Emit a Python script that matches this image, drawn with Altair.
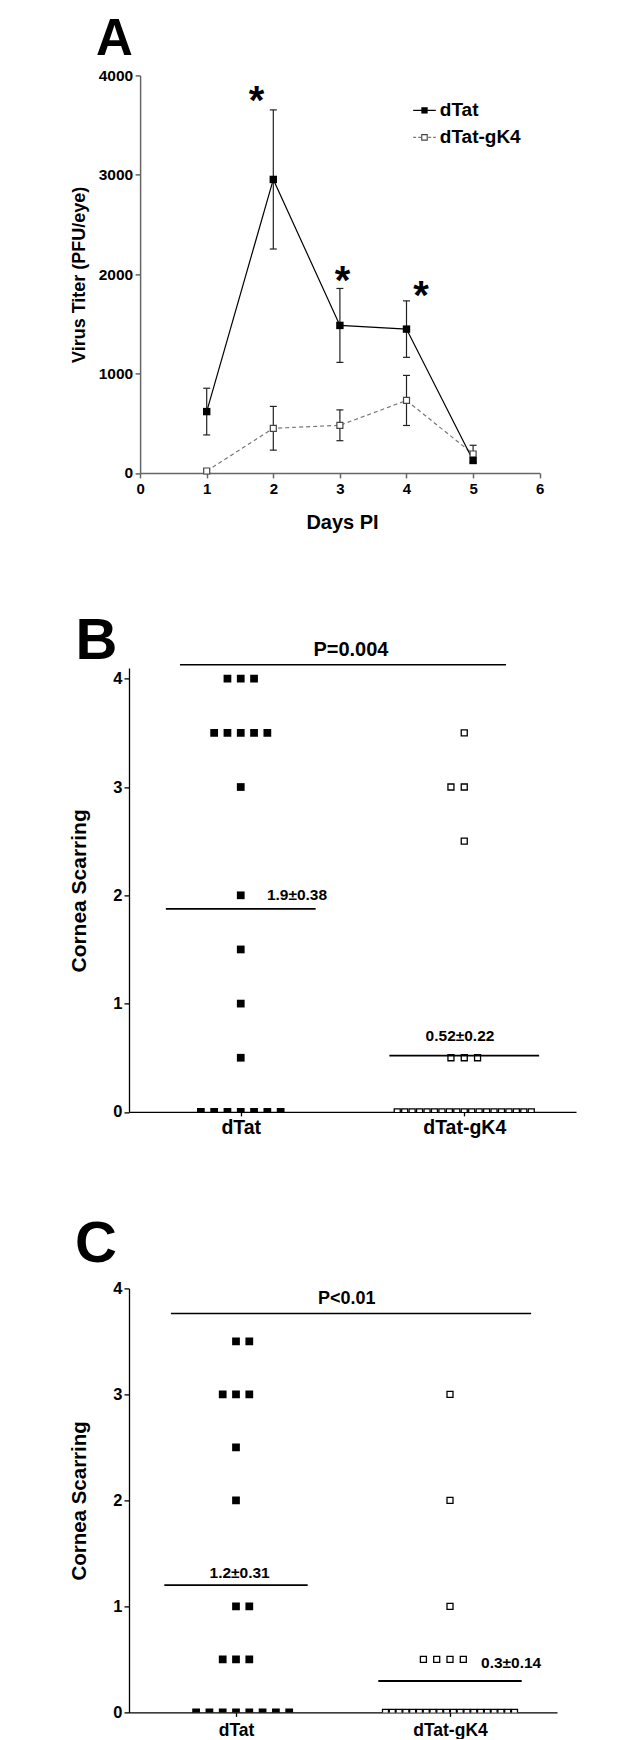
import altair as alt
import pandas as pd

FONT = "Liberation Sans"

# ---------------- Panel A : virus titer ----------------
days = [1, 2, 3, 4, 5]
dtat_mean = [617, 2953, 1484, 1447, 125]
dtat_sem = [235, 700, 372, 284, 0]
gk4_mean = [19, 449, 479, 729, 190]
gk4_sem = [0, 220, 155, 252, 88]
a_x_ticks = [0, 1, 2, 3, 4, 5, 6]
a_y_ticks = [0, 1000, 2000, 3000, 4000]
star_day = [1.75, 3.04, 4.22]
star_titer = [3834, 2022, 1869]
series = ["dTat", "dTat-gK4"]
legend_titer = [3648, 3376]
legend_line = [4.10, 4.44]
legend_mark = 4.27
legend_text = 4.50

# ---------------- Panels B / C : cornea scarring ----------------
groups = ["dTat", "dTat-gK4"]
score_ticks = [0, 1, 2, 3, 4]

b_dtat = [4] * 3 + [3.5] * 5 + [3, 2, 1.5, 1, 0.5] + [0] * 7
b_gk4 = [3.5] + [3] * 2 + [2.5] + [0.5] * 3 + [0] * 19
b_mean_labels = ["1.9\u00b10.38", "0.52\u00b10.22"]
b_label_x = [0.617, 1.481]
b_p_label = "P=0.004"
b_p_bar = [0.228, 1.687, 4.13]
b_p_text_x = 0.993

c_dtat = [3.5] * 2 + [3] * 3 + [2.5, 2] + [1] * 2 + [0.5] * 3 + [0] * 8
c_gk4 = [3, 2, 1] + [0.5] * 4 + [0] * 20
c_mean_labels = ["1.2\u00b10.31", "0.3\u00b10.14"]
c_label_x = [0.517, 1.645]
c_p_label = "P<0.01"
c_p_bar = [0.196, 1.879, 3.763]
c_p_text_x = 1.017


# ======================= Panel A =======================
WA, HA = 410.7, 397.5
AX_SHIFT = 11.1
xA = alt.Scale(domain=[0, 6], range=[AX_SHIFT, WA], nice=False, zero=False)
yA = alt.Scale(domain=[0, 4000], nice=False, zero=False)
axXA = alt.Axis(values=a_x_ticks, format="d", title="Days PI", titleX=213, titleY=55.5,
                titleBaseline="alphabetic", titleFontSize=20, titleFontWeight="bold",
                labelFontSize=15, labelFontWeight="bold", labelBaseline="alphabetic",
                labelPadding=15.8, tickSize=5, labelFlush=False, grid=False,
                domainColor="#666", tickColor="#666", domainWidth=1.5, tickWidth=1.5,
                labelColor="black", titleColor="black")
axYA = alt.Axis(values=a_y_ticks, format="d", title="Virus Titer (PFU/eye)", offset=-AX_SHIFT,
                titleX=-61.1, titleY=199, titleBaseline="middle", titleFontSize=18,
                titleFontWeight="bold", labelFontSize=15.5, labelFontWeight="bold",
                labelPadding=2.4, tickSize=5, grid=False, domainColor="#666",
                tickColor="#666", domainWidth=1.5, tickWidth=1.5, labelColor="black",
                titleColor="black")


def axA(f):
    return alt.X(f, type="quantitative", scale=xA, axis=axXA)


def ayA(f):
    return alt.Y(f, type="quantitative", scale=yA, axis=axYA)


dfA = pd.DataFrame({
    "day": days * 2,
    "titer": dtat_mean + gk4_mean,
    "sem": dtat_sem + gk4_sem,
    "virus": [series[0]] * len(days) + [series[1]] * len(days),
})
dfA["lo"] = dfA["titer"] - dfA["sem"]
dfA["hi"] = dfA["titer"] + dfA["sem"]
dA_d = dfA[dfA["virus"] == series[0]]
dA_g = dfA[dfA["virus"] == series[1]]
errA = dfA[dfA["sem"] > 0]

layersA = [
    alt.Chart(dA_g).mark_line(color="#777", strokeDash=[4, 3], strokeWidth=1.2)
    .encode(x=axA("day"), y=ayA("titer")),
    alt.Chart(dA_d).mark_line(color="black", strokeWidth=1.2)
    .encode(x=axA("day"), y=ayA("titer")),
    alt.Chart(errA).mark_rule(color="#222", strokeWidth=1.2)
    .encode(x=axA("day"), y=ayA("lo"), y2="hi"),
    alt.Chart(errA).mark_tick(orient="horizontal", size=7, thickness=1.2, color="#222", opacity=1)
    .encode(x=axA("day"), y=ayA("hi")),
    alt.Chart(errA).mark_tick(orient="horizontal", size=7, thickness=1.2, color="#222", opacity=1)
    .encode(x=axA("day"), y=ayA("lo")),
    alt.Chart(dA_g).mark_point(shape="square", filled=True, fill="white", stroke="#444",
                               strokeWidth=1.2, size=36, opacity=1)
    .encode(x=axA("day"), y=ayA("titer")),
    alt.Chart(dA_d).mark_point(shape="square", filled=True, color="black", size=55, opacity=1)
    .encode(x=axA("day"), y=ayA("titer")),
    alt.Chart(pd.DataFrame({"day": star_day, "titer": star_titer, "s": ["*"] * len(star_day)}))
    .mark_text(fontSize=40, fontWeight="bold", baseline="alphabetic", dy=22, color="black")
    .encode(x=axA("day"), y=ayA("titer"), text="s:N"),
]

leg = pd.DataFrame({"virus": series, "titer": legend_titer, "x0": legend_line[0],
                    "x1": legend_line[1], "xm": legend_mark, "xt": legend_text})
leg_d = leg[leg["virus"] == series[0]]
leg_g = leg[leg["virus"] == series[1]]
layersA += [
    alt.Chart(leg_d).mark_rule(color="black", strokeWidth=1.2)
    .encode(x=axA("x0"), x2="x1", y=ayA("titer")),
    alt.Chart(leg_g).mark_rule(color="#777", strokeWidth=1.2, strokeDash=[3, 2])
    .encode(x=axA("x0"), x2="x1", y=ayA("titer")),
    alt.Chart(leg_d).mark_point(shape="square", filled=True, color="black", size=40, opacity=1)
    .encode(x=axA("xm"), y=ayA("titer")),
    alt.Chart(leg_g).mark_point(shape="square", filled=True, fill="white", stroke="#444",
                                strokeWidth=1.1, size=30, opacity=1)
    .encode(x=axA("xm"), y=ayA("titer")),
    alt.Chart(leg).mark_text(fontSize=19, fontWeight="bold", align="left", baseline="middle",
                             color="black")
    .encode(x=axA("xt"), y=ayA("titer"), text="virus:N"),
    alt.Chart(pd.DataFrame({"t": ["A"]})).mark_text(fontSize=51, fontWeight="bold", align="left",
                                                    baseline="alphabetic", color="black")
    .encode(x=alt.value(-33), y=alt.value(-20.6), text="t:N"),
]
chartA = alt.layer(*layersA).properties(width=WA, height=HA)


# ======================= Panels B / C =======================
def swarm(values, center, px_per_unit, max_width_px, even_side, spacing_px=13.3):
    counts = {}
    for v in values:
        counts[v] = counts.get(v, 0) + 1
    rows = []
    for v, n in counts.items():
        sp = spacing_px
        if n > 1 and (n - 1) * sp > max_width_px:
            sp = max_width_px / (n - 1)
            offs = [k - (n - 1) / 2 for k in range(n)]
        elif n % 2 == 1:
            offs = [k - (n - 1) / 2 for k in range(n)]
        else:
            offs = [k - n / 2 + (1 if even_side > 0 else 0) for k in range(n)]
        for o in offs:
            rows.append({"pos": center + o * sp / px_per_unit, "score": v})
    return pd.DataFrame(rows)


def dot_panel(letter, dtat_vals, gk4_vals, mean_labels, label_x, label_align, label_dy,
              p_label, p_bar, p_text_x, p_dy, p_size, width, height, ytop, ymax, max_w,
              sides, xlab_size, xlab_pad, ytitle_x, ytitle_y, ytitle_size,
              letter_x, letter_y):
    ppu = width / 2
    pts_d = swarm(dtat_vals, 0.5, ppu, max_w, sides[0])
    pts_g = swarm(gk4_vals, 1.5, ppu, max_w, sides[1])
    xs = alt.Scale(domain=[0, 2], nice=False, zero=False)
    ys = alt.Scale(domain=[0, ymax], range=[height, ytop], nice=False, zero=False)
    xax = alt.Axis(values=[0.5, 1.5],
                   labelExpr=f"datum.value < 1 ? '{groups[0]}' : '{groups[1]}'",
                   title=None, labelFontSize=xlab_size, labelFontWeight="bold",
                   labelBaseline="alphabetic", labelPadding=xlab_pad, tickSize=4,
                   labelFlush=False, grid=False, domainColor="black", tickColor="black",
                   domainWidth=1.3, tickWidth=1.3, labelColor="black")
    yax = alt.Axis(values=score_ticks, format="d", title="Cornea Scarring",
                   titleX=ytitle_x, titleY=ytitle_y, titleBaseline="middle",
                   titleFontSize=ytitle_size, titleFontWeight="bold", labelFontSize=16.5,
                   labelFontWeight="bold", labelPadding=2, tickSize=5, grid=False,
                   domainColor="black", tickColor="black", domainWidth=1.3, tickWidth=1.3,
                   labelColor="black", titleColor="black")

    def X(f):
        return alt.X(f, type="quantitative", scale=xs, axis=xax)

    def Y(f):
        return alt.Y(f, type="quantitative", scale=ys, axis=yax)

    means = [sum(dtat_vals) / len(dtat_vals), sum(gk4_vals) / len(gk4_vals)]
    dfm = pd.DataFrame({"group": groups, "lo": [0.5 - 0.335, 1.5 - 0.335],
                        "hi": [0.5 + 0.335, 1.5 + 0.335], "score": means})
    layers = [
        alt.Chart(pts_g).mark_point(shape="square", filled=True, fill="white", stroke="black",
                                    strokeWidth=1.3, size=36, opacity=1, clip=True)
        .encode(x=X("pos"), y=Y("score")),
        alt.Chart(pts_d).mark_point(shape="square", filled=True, color="black", size=60,
                                    opacity=1, clip=True)
        .encode(x=X("pos"), y=Y("score")),
        alt.Chart(dfm).mark_rule(color="black", strokeWidth=1.8)
        .encode(x=X("lo"), x2="hi", y=Y("score")),
    ]
    for i in range(2):
        dfl = pd.DataFrame({"pos": [label_x[i]], "score": [means[i]], "t": [mean_labels[i]]})
        layers.append(
            alt.Chart(dfl).mark_text(fontSize=15.5, fontWeight="bold", align=label_align[i],
                                     baseline="alphabetic", dy=label_dy[i], color="black")
            .encode(x=X("pos"), y=Y("score"), text="t:N"))
    dfp = pd.DataFrame({"pos": [p_bar[0]], "pos2": [p_bar[1]], "score": [p_bar[2]],
                        "tx": [p_text_x], "t": [p_label]})
    layers += [
        alt.Chart(dfp).mark_rule(color="black", strokeWidth=1.5)
        .encode(x=X("pos"), x2="pos2", y=Y("score")),
        alt.Chart(dfp).mark_text(fontSize=p_size, fontWeight="bold", align="center",
                                 baseline="alphabetic", dy=p_dy, color="black")
        .encode(x=X("tx"), y=Y("score"), text="t:N"),
        alt.Chart(pd.DataFrame({"t": [letter]})).mark_text(fontSize=58, fontWeight="bold",
                                                           align="left", baseline="alphabetic",
                                                           color="black")
        .encode(x=alt.value(letter_x), y=alt.value(letter_y), text="t:N"),
    ]
    return alt.layer(*layers).properties(width=width, height=height)


chartB = dot_panel("B", b_dtat, b_gk4, b_mean_labels, b_label_x, ["left", "center"], [-8.4, -14.6],
                   b_p_label, b_p_bar, b_p_text_x, -8.3, 20, width=447, height=462.5, ytop=18.5,
                   ymax=4.1, max_w=134, sides=[-1, -1], xlab_size=19.5, xlab_pad=17.8,
                   ytitle_x=-49.5, ytitle_y=241, ytitle_size=21, letter_x=-53.6, letter_y=9.9)

chartC = dot_panel("C", c_dtat, c_gk4, c_mean_labels, c_label_x, ["center", "left"], [-7.3, -12.5],
                   c_p_label, c_p_bar, c_p_text_x, -9.6, 18, width=428, height=424, ytop=0,
                   ymax=4, max_w=129, sides=[1, -1], xlab_size=17.5, xlab_pad=19,
                   ytitle_x=-49.4, ytitle_y=212, ytitle_size=20.5, letter_x=-53.9, letter_y=-26)

chart = (
    alt.vconcat(chartA, chartB, chartC, spacing=176, bounds="flush")
    .properties(padding={"left": 60, "top": 5.4, "right": 5, "bottom": 0})
    .configure(font=FONT)
    .configure_view(stroke=None)
)

chart.save("out.html", embed_options={"renderer": "svg", "actions": False})
